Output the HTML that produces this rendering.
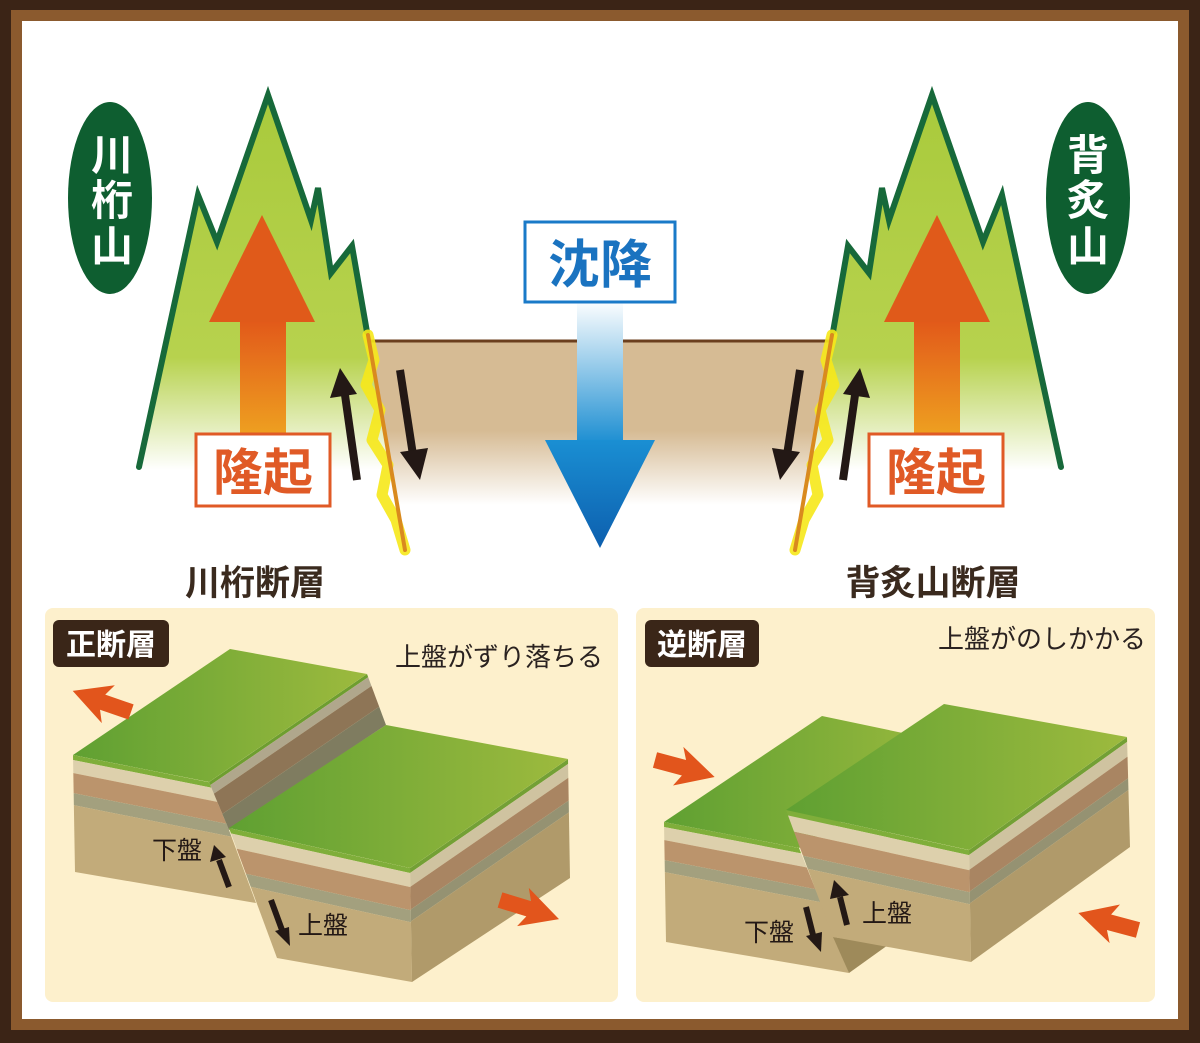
<!DOCTYPE html>
<html><head><meta charset="utf-8"><style>
html,body{margin:0;padding:0;background:#fff}
svg{display:block}
text{font-family:"Liberation Sans","Noto Sans CJK JP",sans-serif}
</style></head><body>
<svg width="1200" height="1043" viewBox="0 0 1200 1043" xmlns="http://www.w3.org/2000/svg">
<defs>
<linearGradient id="mt" x1="0" y1="95" x2="0" y2="470" gradientUnits="userSpaceOnUse">
<stop offset="0" stop-color="#a9ca3c"/><stop offset="0.7" stop-color="#b7d24e"/><stop offset="1" stop-color="#ffffff"/></linearGradient>
<linearGradient id="gr" x1="0" y1="340" x2="0" y2="505" gradientUnits="userSpaceOnUse">
<stop offset="0" stop-color="#d6bb94"/><stop offset="0.55" stop-color="#d6bb94"/><stop offset="1" stop-color="#ffffff"/></linearGradient>
<linearGradient id="bs" x1="0" y1="300" x2="0" y2="442" gradientUnits="userSpaceOnUse">
<stop offset="0" stop-color="#ffffff"/><stop offset="1" stop-color="#1e8fd2"/></linearGradient>
<linearGradient id="bh" x1="0" y1="440" x2="0" y2="548" gradientUnits="userSpaceOnUse">
<stop offset="0" stop-color="#1a8fd3"/><stop offset="1" stop-color="#0d5fae"/></linearGradient>
<linearGradient id="os" x1="0" y1="322" x2="0" y2="435" gradientUnits="userSpaceOnUse">
<stop offset="0" stop-color="#e25a1a"/><stop offset="1" stop-color="#eea020"/></linearGradient>
<linearGradient id="gt" x1="0" y1="0" x2="1" y2="0">
<stop offset="0" stop-color="#5fa032"/><stop offset="1" stop-color="#9dba3e"/></linearGradient>
<polygon id="oa" points="0,-8 30,-8 24,-20 62,1 24,20 30,8 0,8" fill="#e2551c"/>
</defs>
<rect width="1200" height="1043" fill="#3b2416"/>
<rect x="11" y="10" width="1178" height="1020" fill="#8b5a2e"/>
<rect x="22" y="21" width="1156" height="998" fill="#ffffff"/>

<rect x="368" y="340" width="464" height="165" fill="url(#gr)"/>
<line x1="368" y1="341" x2="832" y2="341" stroke="#6b3f1e" stroke-width="3"/>

<polygon points="139,467 198,195 217,242 268,95 311,220 318,188 331,273 352,246 367,332 405,550 360,520 300,480 139,480" fill="url(#mt)"/>
<polyline points="139,467 198,195 217,242 268,95 311,220 318,188 331,273 352,246 367,332" fill="none" stroke="#17693a" stroke-width="6" stroke-linecap="round"/>
<polygon points="1061,467 1002,195 983,242 932,95 889,220 882,188 869,273 848,246 833,332 795,550 840,520 900,480 1061,480" fill="url(#mt)"/>
<polyline points="1061,467 1002,195 983,242 932,95 889,220 882,188 869,273 848,246 833,332" fill="none" stroke="#17693a" stroke-width="6" stroke-linecap="round"/>

<rect x="240" y="320" width="46" height="115" fill="url(#os)"/>
<polygon points="209,322 262,215 315,322" fill="#e05a1a"/>
<rect x="914" y="320" width="46" height="115" fill="url(#os)"/>
<polygon points="884,322 937,215 990,322" fill="#e05a1a"/>
<rect x="196" y="434" width="134" height="72" fill="#fff" stroke="#e05a26" stroke-width="3"/>
<text x="263" y="490" font-size="50" font-weight="bold" fill="#e05a26" text-anchor="middle">隆起</text>
<rect x="869" y="434" width="134" height="72" fill="#fff" stroke="#e05a26" stroke-width="3"/>
<text x="936" y="490" font-size="50" font-weight="bold" fill="#e05a26" text-anchor="middle">隆起</text>

<polyline points="368,335 374,360 366,385 380,410 372,440 388,465 382,495 396,520 405,550" fill="none" stroke="#f6e81a" stroke-width="11" stroke-linejoin="round" stroke-linecap="round" opacity="0.9"/>
<line x1="368" y1="335" x2="405" y2="550" stroke="#d98a1e" stroke-width="4" stroke-linecap="round"/>
<polyline points="832,335 826,360 834,385 820,410 828,440 812,465 818,495 804,520 795,550" fill="none" stroke="#f6e81a" stroke-width="11" stroke-linejoin="round" stroke-linecap="round" opacity="0.9"/>
<line x1="832" y1="335" x2="795" y2="550" stroke="#d98a1e" stroke-width="4" stroke-linecap="round"/>

<g stroke="#231815" stroke-width="8" fill="#231815">
<line x1="357" y1="480" x2="345" y2="395"/><polygon points="330,398 340,368 357,394" stroke="none"/>
<line x1="400" y1="370" x2="413" y2="455"/><polygon points="400,452 420,480 428,448" stroke="none"/>
<line x1="843" y1="480" x2="855" y2="395"/><polygon points="843,394 860,368 870,398" stroke="none"/>
<line x1="800" y1="370" x2="787" y2="455"/><polygon points="772,448 780,480 800,452" stroke="none"/>
</g>

<rect x="577" y="300" width="46" height="142" fill="url(#bs)"/>
<polygon points="545,440 655,440 600,548" fill="url(#bh)"/>
<rect x="525" y="222" width="150" height="80" fill="#fff" stroke="#1a7ac8" stroke-width="3"/>
<text x="600" y="283" font-size="52" font-weight="bold" fill="#1a73c0" text-anchor="middle">沈降</text>

<ellipse cx="110" cy="198" rx="42" ry="96" fill="#0e5e30"/>
<g font-size="42" font-weight="bold" fill="#fff" text-anchor="middle">
<text x="112" y="170">川</text><text x="112" y="215">桁</text><text x="112" y="261">山</text>
</g>
<ellipse cx="1088" cy="198" rx="42" ry="96" fill="#0e5e30"/>
<g font-size="42" font-weight="bold" fill="#fff" text-anchor="middle">
<text x="1088" y="170">背</text><text x="1088" y="215">炙</text><text x="1088" y="261">山</text>
</g>

<text x="255" y="595" font-size="35" font-weight="bold" fill="#3a2a1e" text-anchor="middle">川桁断層</text>
<text x="933" y="595" font-size="35" font-weight="bold" fill="#3a2a1e" text-anchor="middle">背炙山断層</text>

<rect x="45" y="608" width="573" height="394" rx="8" fill="#fdf0cc"/>
<rect x="636" y="608" width="519" height="394" rx="8" fill="#fdf0cc"/>
<rect x="53" y="620" width="116" height="47" rx="6" fill="#3a2618"/>
<text x="111" y="655" font-size="30" font-weight="bold" fill="#fff" text-anchor="middle">正断層</text>
<rect x="645" y="620" width="114" height="47" rx="6" fill="#3a2618"/>
<text x="702" y="655" font-size="30" font-weight="bold" fill="#fff" text-anchor="middle">逆断層</text>
<text x="603" y="666" font-size="26" fill="#2a2220" text-anchor="end">上盤がずり落ちる</text>
<text x="1146" y="648" font-size="26" fill="#2a2220" text-anchor="end">上盤がのしかかる</text>

<clipPath id="c1"><polygon points="73,755 209,782 229,830 256,903 75,872"/></clipPath>
<g clip-path="url(#c1)"><g transform="matrix(1,0.2,0,1,0,740.4)">
<rect x="60" y="0" width="220" height="5" fill="#7fae3a"/>
<rect x="60" y="5" width="220" height="13" fill="#ddd0ac"/>
<rect x="60" y="18" width="220" height="20" fill="#bb946c"/>
<rect x="60" y="38" width="220" height="12" fill="#a3a07e"/>
<rect x="60" y="50" width="220" height="120" fill="#c2ab7a"/>
</g></g>
<clipPath id="c2"><polygon points="209,782 367,674 386,725 229,830"/></clipPath>
<g clip-path="url(#c2)"><g transform="matrix(1,-0.684,0,1,0,925)">
<rect x="200" y="0" width="200" height="4" fill="#6e9e30"/>
<rect x="200" y="4" width="200" height="11" fill="#b0a78c"/>
<rect x="200" y="15" width="200" height="26" fill="#8e7556"/>
<rect x="200" y="41" width="200" height="30" fill="#7f7c60"/>
</g></g>
<polygon points="73,755 230,649 367,674 209,782" fill="url(#gt)"/>
<clipPath id="c3"><polygon points="229,828 410,868 412,982 277,958"/></clipPath>
<g clip-path="url(#c3)"><g transform="matrix(1,0.221,0,1,0,777.4)">
<rect x="220" y="0" width="200" height="5" fill="#7fae3a"/>
<rect x="220" y="5" width="200" height="14" fill="#ddd0ac"/>
<rect x="220" y="19" width="200" height="23" fill="#bb946c"/>
<rect x="220" y="42" width="200" height="12" fill="#a3a07e"/>
<rect x="220" y="54" width="200" height="120" fill="#c2ab7a"/>
</g></g>
<clipPath id="c4"><polygon points="410,868 568,759 570,878 412,982"/></clipPath>
<g clip-path="url(#c4)"><g transform="matrix(1,-0.69,0,1,0,1150.9)">
<rect x="400" y="0" width="180" height="5" fill="#73a035"/>
<rect x="400" y="5" width="180" height="14" fill="#cfc3a0"/>
<rect x="400" y="19" width="180" height="23" fill="#a98562"/>
<rect x="400" y="42" width="180" height="12" fill="#959272"/>
<rect x="400" y="54" width="180" height="120" fill="#b09a6a"/>
</g></g>
<polygon points="229,828 386,725 568,759 410,868" fill="url(#gt)"/>
<g stroke="#231815" stroke-width="6" fill="#231815">
<line x1="229" y1="887" x2="219" y2="860"/><polygon points="210,862 214,845 226,857" stroke="none"/>
<line x1="271" y1="900" x2="282" y2="930"/><polygon points="275,931 290,946 289,927" stroke="none"/>
</g>
<text x="152" y="859" font-size="25" fill="#231815">下盤</text>
<text x="298" y="934" font-size="25" fill="#231815">上盤</text>
<use href="#oa" transform="translate(131,712) rotate(199)"/>
<use href="#oa" transform="translate(500,900) rotate(17)"/>

<clipPath id="c5"><polygon points="664,822 799,848 849,973 666,942"/></clipPath>
<g clip-path="url(#c5)"><g transform="matrix(1,0.193,0,1,0,693.8)">
<rect x="650" y="0" width="220" height="5" fill="#7fae3a"/>
<rect x="650" y="5" width="220" height="13" fill="#ddd0ac"/>
<rect x="650" y="18" width="220" height="20" fill="#bb946c"/>
<rect x="650" y="38" width="220" height="12" fill="#a3a07e"/>
<rect x="650" y="50" width="220" height="120" fill="#c2ab7a"/>
</g></g>
<polygon points="664,822 822,716 960,745 799,848" fill="url(#gt)"/>
<polygon points="833,937 849,973 888,945" fill="#9e8a5a"/>
<clipPath id="c6"><polygon points="786,810 969,850 971,962 833,937"/></clipPath>
<g clip-path="url(#c6)"><g transform="matrix(1,0.219,0,1,0,637.9)">
<rect x="780" y="0" width="200" height="5" fill="#7fae3a"/>
<rect x="780" y="5" width="200" height="15" fill="#ddd0ac"/>
<rect x="780" y="20" width="200" height="22" fill="#bb946c"/>
<rect x="780" y="42" width="200" height="12" fill="#a3a07e"/>
<rect x="780" y="54" width="200" height="120" fill="#c2ab7a"/>
</g></g>
<clipPath id="c7"><polygon points="969,850 1127,737 1130,847 971,962"/></clipPath>
<g clip-path="url(#c7)"><g transform="matrix(1,-0.715,0,1,0,1542.8)">
<rect x="960" y="0" width="180" height="5" fill="#73a035"/>
<rect x="960" y="5" width="180" height="15" fill="#cfc3a0"/>
<rect x="960" y="20" width="180" height="22" fill="#a98562"/>
<rect x="960" y="42" width="180" height="12" fill="#959272"/>
<rect x="960" y="54" width="180" height="120" fill="#b09a6a"/>
</g></g>
<polygon points="786,810 944,704 1127,737 969,850" fill="url(#gt)"/>
<g stroke="#231815" stroke-width="6" fill="#231815">
<line x1="847" y1="925" x2="840" y2="897"/><polygon points="830,899 834,880 849,895" stroke="none"/>
<line x1="806" y1="907" x2="813" y2="935"/><polygon points="806,936 821,952 822,932" stroke="none"/>
</g>
<text x="862" y="922" font-size="25" fill="#231815">上盤</text>
<text x="744" y="941" font-size="25" fill="#231815">下盤</text>
<use href="#oa" transform="translate(655,760) rotate(15)"/>
<use href="#oa" transform="translate(1138,930) rotate(195)"/>
</svg>
</body></html>
